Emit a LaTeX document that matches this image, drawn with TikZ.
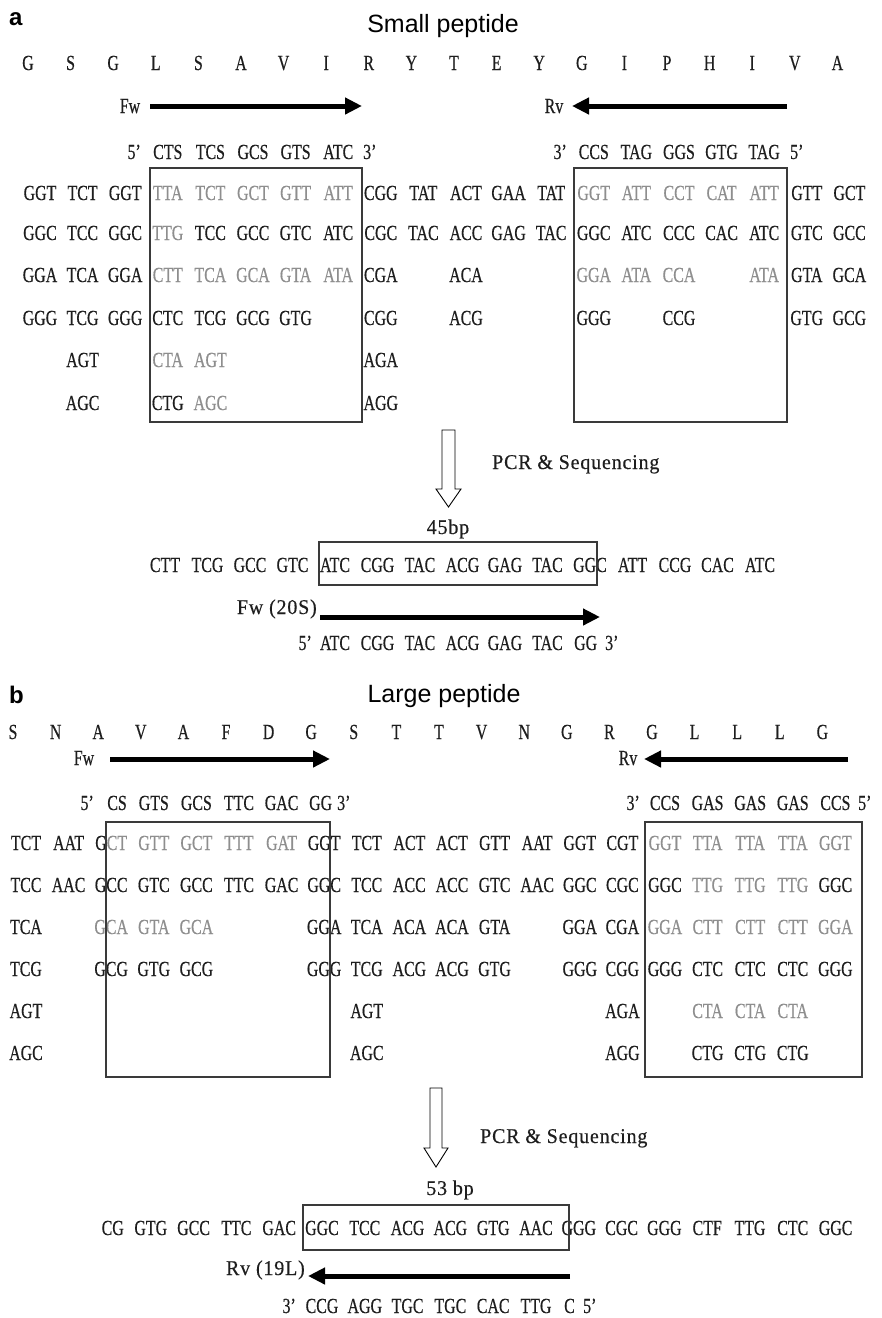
\documentclass[tikz,border=0pt]{standalone}
\usepackage{fontspec}
\usetikzlibrary{arrows.meta}
\setsansfont{Liberation Sans}
\newfontfamily\seqfont[FakeStretch=0.74,FakeBold=0.4]{Liberation Serif}
\newfontfamily\lblfont[FakeStretch=0.95,FakeBold=0.4,LetterSpace=4]{Liberation Serif}
\definecolor{seqgray}{HTML}{8E8E8E}
\definecolor{seqblack}{HTML}{1E1E1E}
\definecolor{boxline}{HTML}{3A3A3A}

\begin{document}
\begin{tikzpicture}[x=1pt,y=-1pt,
  nt/.style={font=\seqfont\fontsize{21.5}{21.5}\selectfont, text=seqblack, inner sep=0pt, anchor=base},
  gr/.style={nt, text=seqgray},
  lbl/.style={font=\lblfont\fontsize{21}{21}\selectfont, text=seqblack, inner sep=0pt, anchor=base},
  seqbox/.style={draw=boxline, line width=1.2pt},
  primer/.style={line width=5pt, -{Triangle[length=17pt,width=16pt]}},
  pcr/.style={draw=black, fill=white, line width=0.9pt},
  title/.style={font=\sffamily\fontsize{25}{25}\selectfont, inner sep=0pt, anchor=base},
  panel/.style={font=\sffamily\bfseries\fontsize{24}{24}\selectfont, inner sep=0pt, anchor=base west}]
  \fill[white] (0,0) rectangle (882,1318);
  \useasboundingbox (0,0) rectangle (882,1318);
  \def\pa{42.6} \def\ca{40} \def\cb{26}

  % ---------- panel a ----------
  \node[panel] (pa) at (9,25) {a};
  \node[title] (ta) at (443,32) {Small peptide};
  \foreach \t [count=\k from 0] in {G,S,G,L,S,A,V,I,R,Y,T,E,Y,G,I,P,H,I,V,A}
    \node[nt] (aa-\k) at ({28+\pa*\k},70) {\t};

  \node[nt] (fwa) at (130,113) {Fw};
  \coordinate (fwa0) at (150,106); \coordinate (fwa1) at (362,106);
  \draw[primer] (fwa0) -- (fwa1);
  \node[nt] (rva) at (554,113) {Rv};
  \coordinate (rva0) at (787,106); \coordinate (rva1) at (572,106);
  \draw[primer] (rva0) -- (rva1);

  \node[nt,anchor=base east] (pfa5) at (141,159) {5’};
  \foreach \k/\t in {3/CTS,4/TCS,5/GCS,6/GTS,7/ATC}
    \node[nt] (pfa-\k) at ({\ca+\pa*\k},159) {\t};
  \node[nt,anchor=base west] (pfa3) at (363,159) {3’};
  \node[nt,anchor=base east] (pra3) at (567,159) {3’};
  \foreach \k/\t in {13/CCS,14/TAG,15/GGS,16/GTG,17/TAG}
    \node[nt] (pra-\k) at ({\ca+\pa*\k},159) {\t};
  \node[nt,anchor=base west] (pra5) at (790,159) {5’};

  % codon rows
  \foreach \k/\t/\s in {0/GGT/nt,1/TCT/nt,2/GGT/nt,3/TTA/gr,4/TCT/gr,5/GCT/gr,6/GTT/gr,7/ATT/gr,8/CGG/nt,9/TAT/nt,10/ACT/nt,11/GAA/nt,12/TAT/nt,13/GGT/gr,14/ATT/gr,15/CCT/gr,16/CAT/gr,17/ATT/gr,18/GTT/nt,19/GCT/nt}
    \node[\s] (ra1-\k) at ({\ca+\pa*\k},200) {\t};
  \foreach \k/\t/\s in {0/GGC/nt,1/TCC/nt,2/GGC/nt,3/TTG/gr,4/TCC/nt,5/GCC/nt,6/GTC/nt,7/ATC/nt,8/CGC/nt,9/TAC/nt,10/ACC/nt,11/GAG/nt,12/TAC/nt,13/GGC/nt,14/ATC/nt,15/CCC/nt,16/CAC/nt,17/ATC/nt,18/GTC/nt,19/GCC/nt}
    \node[\s] (ra2-\k) at ({\ca+\pa*\k},240) {\t};
  \foreach \k/\t/\s in {0/GGA/nt,1/TCA/nt,2/GGA/nt,3/CTT/gr,4/TCA/gr,5/GCA/gr,6/GTA/gr,7/ATA/gr,8/CGA/nt,10/ACA/nt,13/GGA/gr,14/ATA/gr,15/CCA/gr,17/ATA/gr,18/GTA/nt,19/GCA/nt}
    \node[\s] (ra3-\k) at ({\ca+\pa*\k},282) {\t};
  \foreach \k/\t/\s in {0/GGG/nt,1/TCG/nt,2/GGG/nt,3/CTC/nt,4/TCG/nt,5/GCG/nt,6/GTG/nt,8/CGG/nt,10/ACG/nt,13/GGG/nt,15/CCG/nt,18/GTG/nt,19/GCG/nt}
    \node[\s] (ra4-\k) at ({\ca+\pa*\k},325) {\t};
  \foreach \k/\t/\s in {1/AGT/nt,3/CTA/gr,4/AGT/gr,8/AGA/nt}
    \node[\s] (ra5-\k) at ({\ca+\pa*\k},367) {\t};
  \foreach \k/\t/\s in {1/AGC/nt,3/CTG/nt,4/AGC/gr,8/AGG/nt}
    \node[\s] (ra6-\k) at ({\ca+\pa*\k},410) {\t};

  \draw[seqbox] (150,168) rectangle (362,422);
  \draw[seqbox] (574,168) rectangle (787,422);

  % PCR product a
  \draw[pcr] (442,430) -- (442,489) -- (436,489) -- (448.5,507) -- (461,489) -- (455,489) -- (455,430) -- cycle;
  \node[lbl,anchor=base west] (pcra) at (492,469) {PCR \& Sequencing};
  \node[lbl] (bpa) at (448,534) {45bp};
  \foreach \t [count=\k from 0] in {CTT,TCG,GCC,GTC,ATC,CGG,TAC,ACG,GAG,TAC,GGC,ATT,CCG,CAC,ATC}
    \node[nt] (sa-\k) at ({165+42.5*\k},572) {\t};
  \draw[seqbox] (319,542) rectangle (597,585);
  \node[lbl,anchor=base east] (fws) at (317,614) {Fw (20S)};
  \coordinate (fws0) at (320,617); \coordinate (fws1) at (600,617);
  \draw[primer] (fws0) -- (fws1);
  \node[nt,anchor=base east] (fs5) at (312,650) {5’};
  \foreach \k/\t in {4/ATC,5/CGG,6/TAC,7/ACG,8/GAG,9/TAC}
    \node[nt] (fs-\k) at ({165+42.5*\k},650) {\t};
  \node[nt,anchor=base west] (fsgg) at (574,650) {GG};
  \node[nt,anchor=base west] (fs3) at (605,650) {3’};

  % ---------- panel b ----------
  \node[panel] (pb) at (9,703) {b};
  \node[title] (tb) at (444,702) {Large peptide};
  \foreach \t [count=\k from 0] in {S,N,A,V,A,F,D,G,S,T,T,V,N,G,R,G,L,L,L,G}
    \node[nt] (ab-\k) at ({13+\pa*\k},739) {\t};

  \node[nt] (fwb) at (84,765) {Fw};
  \coordinate (fwb0) at (110,759); \coordinate (fwb1) at (330,759);
  \draw[primer] (fwb0) -- (fwb1);
  \node[nt] (rvb) at (628,765) {Rv};
  \coordinate (rvb0) at (848,759); \coordinate (rvb1) at (644,759);
  \draw[primer] (rvb0) -- (rvb1);

  \node[nt,anchor=base east] (pfb5) at (94,810) {5’};
  \node[nt,anchor=base east] (pfb-2) at (127,810) {CS};
  \foreach \k/\t in {3/GTS,4/GCS,5/TTC,6/GAC}
    \node[nt] (pfb-\k) at ({\cb+\pa*\k},810) {\t};
  \node[nt,anchor=base west] (pfb-7) at (309,810) {GG};
  \node[nt,anchor=base west] (pfb3) at (337,810) {3’};
  \node[nt,anchor=base east] (prb3) at (640,810) {3’};
  \foreach \k/\t in {15/CCS,16/GAS,17/GAS,18/GAS,19/CCS}
    \node[nt] (prb-\k) at ({\cb+\pa*\k},810) {\t};
  \node[nt,anchor=base west] (prb5) at (858,810) {5’};

  % codon rows
  \foreach \k/\t/\s in {0/TCT/nt,1/AAT/nt,2/{G{\color{seqgray}CT}}/nt,3/GTT/gr,4/GCT/gr,5/TTT/gr,6/GAT/gr,7/GGT/nt,8/TCT/nt,9/ACT/nt,10/ACT/nt,11/GTT/nt,12/AAT/nt,13/GGT/nt,14/CGT/nt,15/GGT/gr,16/TTA/gr,17/TTA/gr,18/TTA/gr,19/GGT/gr}
    \node[\s] (rb1-\k) at ({\cb+\pa*\k},850) {\t};
  \foreach \k/\t/\s in {0/TCC/nt,1/AAC/nt,2/GCC/nt,3/GTC/nt,4/GCC/nt,5/TTC/nt,6/GAC/nt,7/GGC/nt,8/TCC/nt,9/ACC/nt,10/ACC/nt,11/GTC/nt,12/AAC/nt,13/GGC/nt,14/CGC/nt,15/GGC/nt,16/TTG/gr,17/TTG/gr,18/TTG/gr,19/GGC/nt}
    \node[\s] (rb2-\k) at ({\cb+\pa*\k},892) {\t};
  \foreach \k/\t/\s in {0/TCA/nt,2/GCA/gr,3/GTA/gr,4/GCA/gr,7/GGA/nt,8/TCA/nt,9/ACA/nt,10/ACA/nt,11/GTA/nt,13/GGA/nt,14/CGA/nt,15/GGA/gr,16/CTT/gr,17/CTT/gr,18/CTT/gr,19/GGA/gr}
    \node[\s] (rb3-\k) at ({\cb+\pa*\k},934) {\t};
  \foreach \k/\t/\s in {0/TCG/nt,2/GCG/nt,3/GTG/nt,4/GCG/nt,7/GGG/nt,8/TCG/nt,9/ACG/nt,10/ACG/nt,11/GTG/nt,13/GGG/nt,14/CGG/nt,15/GGG/nt,16/CTC/nt,17/CTC/nt,18/CTC/nt,19/GGG/nt}
    \node[\s] (rb4-\k) at ({\cb+\pa*\k},976) {\t};
  \foreach \k/\t/\s in {0/AGT/nt,8/AGT/nt,14/AGA/nt,16/CTA/gr,17/CTA/gr,18/CTA/gr}
    \node[\s] (rb5-\k) at ({\cb+\pa*\k},1018) {\t};
  \foreach \k/\t/\s in {0/AGC/nt,8/AGC/nt,14/AGG/nt,16/CTG/nt,17/CTG/nt,18/CTG/nt}
    \node[\s] (rb6-\k) at ({\cb+\pa*\k},1060) {\t};

  \draw[seqbox] (106,822) rectangle (330,1077);
  \draw[seqbox] (645,822) rectangle (862,1077);

  % PCR product b
  \draw[pcr] (430,1088) -- (430,1148) -- (424,1148) -- (436,1167) -- (448,1148) -- (442,1148) -- (442,1088) -- cycle;
  \node[lbl,anchor=base west] (pcrb) at (480,1143) {PCR \& Sequencing};
  \node[lbl] (bpb) at (450,1195) {53 bp};
  \node[nt,anchor=base east] (sb-0) at (124,1235) {CG};
  \foreach \t [count=\k from 1] in {GTG,GCC,TTC,GAC,GGC,TCC,ACG,ACG,GTG,AAC,GGG,CGC,GGG,CTF,TTG,CTC,GGC}
    \node[nt] (sb-\k) at ({108+42.8*\k},1235) {\t};
  \draw[seqbox] (303,1205) rectangle (569,1250);
  \node[lbl,anchor=base east] (rvs) at (305,1275) {Rv (19L)};
  \coordinate (rvs0) at (570,1276); \coordinate (rvs1) at (308,1276);
  \draw[primer] (rvs0) -- (rvs1);
  \node[nt,anchor=base east] (rs3) at (296,1313) {3’};
  \foreach \k/\t in {5/CCG,6/AGG,7/TGC,8/TGC,9/CAC,10/TTG}
    \node[nt] (rs-\k) at ({108+42.8*\k},1313) {\t};
  \node[nt,anchor=base west] (rsc) at (564,1313) {C};
  \node[nt,anchor=base west] (rs5) at (583,1313) {5’};
\end{tikzpicture}
\end{document}
